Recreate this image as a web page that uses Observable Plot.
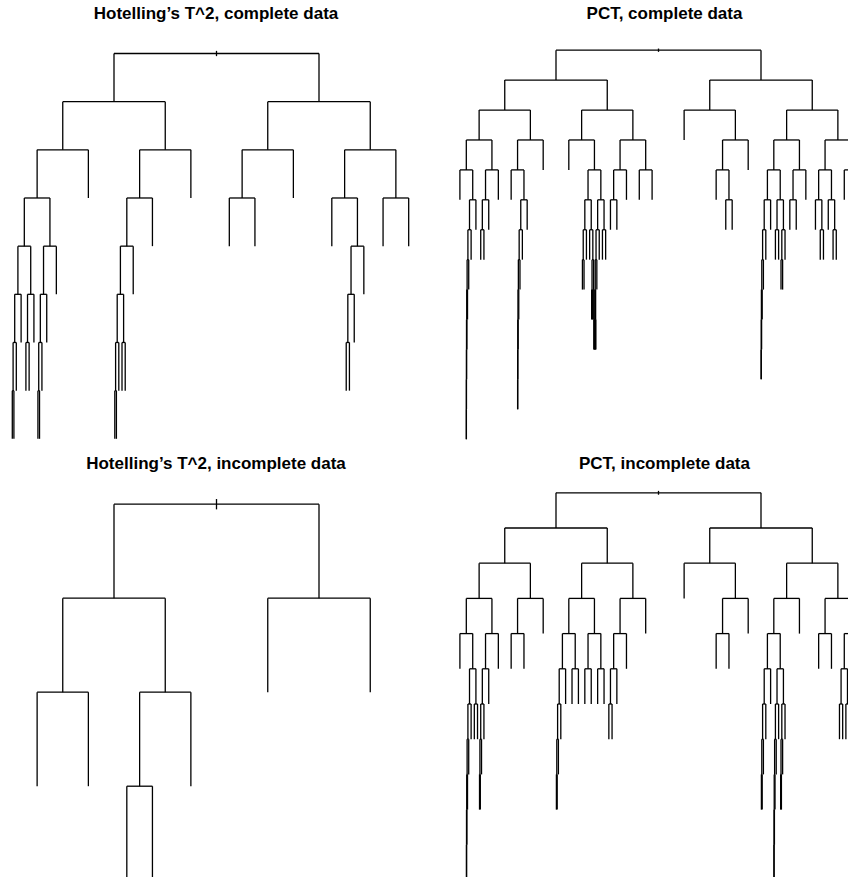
<!DOCTYPE html>
<html>
<head>
<meta charset="utf-8">
<script src="https://cdn.jsdelivr.net/npm/d3@7"></script>
<script src="https://cdn.jsdelivr.net/npm/@observablehq/plot@0.6"></script>
<style>
  html, body { margin: 0; padding: 0; background: #fff; }
  #wrap { position: relative; width: 848px; height: 877px; overflow: hidden; background: #fff; }
  .panel { position: absolute; }
  .title { position: absolute; width: 400px; text-align: center; font-family: "Liberation Sans", Arial, sans-serif; font-weight: bold; font-size: 17px; line-height: 16px; color: #000; white-space: nowrap; }
</style>
</head>
<body>
<div id="wrap"></div>
<script>
// Panel titles
const titles = [
  "Hotelling\u2019s T^2, complete data",
  "PCT, complete data",
  "Hotelling\u2019s T^2, incomplete data",
  "PCT, incomplete data"
];

// Internal (split) nodes of each binary tree, listed per depth by position index
// (node i at depth d has children 2i and 2i+1 at depth d+1; the others are leaves)
const hotellingComplete = [
  [0],
  [0, 1],
  [0, 1, 2, 3],
  [0, 2, 4, 6, 7],
  [0, 1, 4, 13],
  [0, 1, 2, 8, 26],
  [0, 2, 4, 16, 17, 52],
  [0, 8, 32]
];

const pctComplete = [
  [0],
  [0, 1],
  [0, 1, 2, 3],
  [0, 1, 2, 3, 5, 6, 7],
  [0, 1, 2, 5, 6, 7, 10, 12, 13, 14, 15],
  [1, 2, 5, 10, 11, 12, 21, 24, 25, 26, 28, 29],
  [2, 4, 10, 20, 21, 22, 23, 48, 50, 51, 57, 59],
  [4, 20, 40, 43, 44, 96, 102],
  [8, 40, 86, 87, 88, 192],
  [16, 80, 175, 176, 177, 384],
  [32, 160, 768],
  [64, 320],
  [128]
];

const hotellingIncomplete = [
  [0],
  [0, 1],
  [0, 1],
  [2]
];

const pctIncomplete = [
  [0],
  [0, 1],
  [0, 1, 2, 3],
  [0, 1, 2, 3, 5, 6, 7],
  [0, 1, 2, 4, 5, 6, 10, 12, 14, 15],
  [1, 2, 8, 9, 10, 11, 12, 24, 25, 30],
  [2, 3, 4, 16, 24, 48, 50, 51, 60, 61],
  [4, 8, 32, 96, 100, 102],
  [8, 16, 64, 192, 200, 204],
  [16, 400],
  [32, 800]
];

function segments(splits) {
  const segs = [{x1: 0.5, y1: -0.055, x2: 0.5, y2: 0.055}]; // root stub
  splits.forEach((idx, d) => {
    const n = 2 ** (d + 1);
    for (const i of idx) {
      const xl = (2 * i + 0.5) / n, xr = (2 * i + 1.5) / n;
      segs.push({x1: xl, y1: d, x2: xr, y2: d});
      segs.push({x1: xl, y1: d, x2: xl, y2: d + 1});
      segs.push({x1: xr, y1: d, x2: xr, y2: d + 1});
    }
  });
  return segs;
}

// layout of the four panels (pixel placement only)
const panels = [
  {splits: hotellingComplete,   left: 0,   top: 0,   h: 440, xr: [11, 421], yr: [53, 438.3],   title: titles[0], tx: 216,   ty: 6},
  {splits: pctComplete,         left: 424, top: 0,   h: 440, xr: [29, 439], yr: [49.7, 438.7], title: titles[1], tx: 664.5, ty: 6},
  {splits: hotellingIncomplete, left: 0,   top: 450, h: 427, xr: [11, 421], yr: [53.7, 429.7], title: titles[2], tx: 216,   ty: 456},
  {splits: pctIncomplete,       left: 424, top: 450, h: 427, xr: [29, 439], yr: [42.3, 429.5], title: titles[3], tx: 664.5, ty: 456}
];

const wrap = document.getElementById("wrap");
for (const p of panels) {
  const D = p.splits.length;
  const chart = Plot.plot({
    width: 424,
    height: p.h,
    margin: 0,
    style: {background: "transparent", overflow: "hidden"},
    x: {domain: [0, 1], range: p.xr, axis: null},
    y: {domain: [0, D], range: p.yr, axis: null},
    marks: [
      Plot.link(segments(p.splits), {x1: "x1", y1: "y1", x2: "x2", y2: "y2", stroke: "#000", strokeWidth: 1.3, strokeLinecap: "butt"})
    ]
  });
  chart.classList.add("panel");
  chart.style.left = p.left + "px";
  chart.style.top = p.top + "px";
  wrap.appendChild(chart);
}
for (const p of panels) {
  const t = document.createElement("div");
  t.className = "title";
  t.textContent = p.title;
  t.style.left = (p.tx - 200) + "px";
  t.style.top = p.ty + "px";
  wrap.appendChild(t);
}
</script>
</body>
</html>
